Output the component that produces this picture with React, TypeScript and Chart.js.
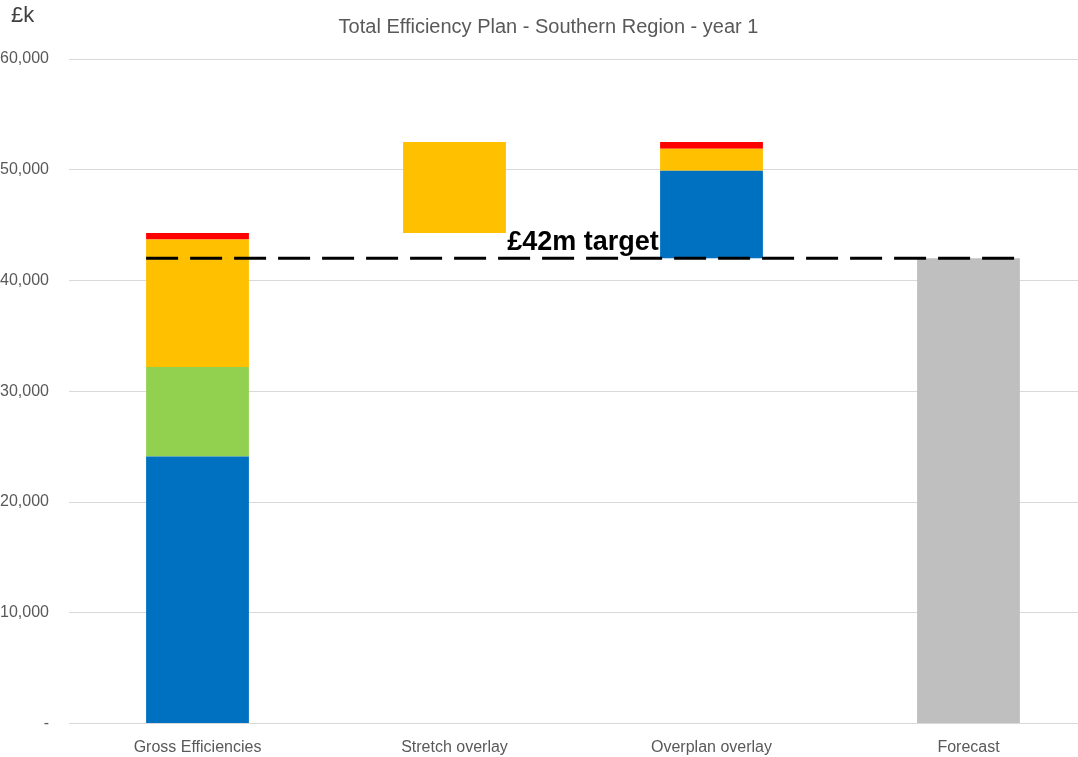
import React, { useEffect, useRef } from "react";
import { Chart, registerables } from "chart.js";

Chart.register(...registerables);

const categories = ["Gross Efficiencies", "Stretch overlay", "Overplan overlay", "Forecast"];
// floating segments [start, end] in £k
const blueSeries: ([number, number] | null)[] = [[0, 24100], null, [42000, 49900], null];
const greenSeries: ([number, number] | null)[] = [[24100, 32200], null, null, null];
const yellowSeries: ([number, number] | null)[] = [[32200, 43700], [44300, 52500], [49900, 51900], null];
const redSeries: ([number, number] | null)[] = [[43700, 44300], null, [51900, 52500], null];
const greySeries: ([number, number] | null)[] = [null, null, null, [0, 42000]];
const targetValue = 42000;
const targetLabel = "£42m target";
const titleText = "Total Efficiency Plan - Southern Region - year 1";
const unitLabel = "£k";

const FONT = "'Liberation Sans', Arial, Helvetica, sans-serif";

const overlayPlugin = {
  id: "overlay",
  afterDatasetsDraw(chart: any) {
    const ctx = chart.ctx;
    const y = chart.scales.y;
    const x = chart.scales.x;
    const firstMeta = chart.getDatasetMeta(0).data[0] as any;
    const lastMeta = chart.getDatasetMeta(4).data[3] as any;
    const left = firstMeta.x - firstMeta.width / 2;
    const right = lastMeta.x + lastMeta.width / 2;
    const py = y.getPixelForValue(targetValue);
    ctx.save();
    ctx.strokeStyle = "#000000";
    ctx.lineWidth = 3;
    ctx.setLineDash([32, 12]);
    ctx.beginPath();
    ctx.moveTo(left, py);
    ctx.lineTo(right, py);
    ctx.stroke();
    ctx.setLineDash([]);
    const cx = (x.getPixelForValue(1) + x.getPixelForValue(2)) / 2;
    ctx.fillStyle = "#000000";
    ctx.font = `bold 27px ${FONT}`;
    ctx.textAlign = "center";
    ctx.textBaseline = "alphabetic";
    ctx.fillText(targetLabel, cx, py - 8);
    ctx.fillStyle = "#404040";
    ctx.font = `22px ${FONT}`;
    ctx.textAlign = "left";
    ctx.textBaseline = "middle";
    ctx.fillText(unitLabel, 11, 16);
    ctx.restore();
  },
};

export default function App() {
  const ref = useRef<HTMLCanvasElement | null>(null);
  useEffect(() => {
    if (!ref.current) return;
    const mk = (label: string, data: any, color: string) => ({
      label,
      data,
      backgroundColor: color,
      borderWidth: 0,
      grouped: false,
      barPercentage: 0.4,
      categoryPercentage: 1,
    });
    const chart = new Chart(ref.current, {
      type: "bar",
      data: {
        labels: categories,
        datasets: [
          mk("Blue", blueSeries, "#0070C0"),
          mk("Green", greenSeries, "#92D050"),
          mk("Yellow", yellowSeries, "#FFC000"),
          mk("Red", redSeries, "#FF0000"),
          mk("Forecast", greySeries, "#BFBFBF"),
        ],
      },
      options: {
        animation: false,
        responsive: true,
        maintainAspectRatio: false,
        layout: { padding: { left: 0, right: 0, top: 0, bottom: 0 } },
        plugins: {
          legend: { display: false },
          tooltip: { enabled: false },
          title: {
            display: true,
            text: titleText,
            color: "#595959",
            font: { family: FONT, size: 20, weight: "normal" },
            padding: { top: 15, bottom: 20 },
          },
        },
        scales: {
          x: {
            grid: { display: false },
            border: { display: false },
            ticks: { color: "#595959", font: { family: FONT, size: 16 }, padding: 6 },
            afterFit: (s: any) => { s.height = 33.5; },
          },
          y: {
            min: 0,
            max: 60000,
            grid: { color: "#D9D9D9", lineWidth: 1, drawTicks: false },
            border: { display: false },
            ticks: {
              stepSize: 10000,
              color: "#595959",
              font: { family: FONT, size: 16 },
              padding: 20,
              callback: (v: any) => (v === 0 ? "-" : Number(v).toLocaleString("en-GB")),
            },
            afterFit: (s: any) => { s.width = 69; },
          },
        },
      },
      plugins: [overlayPlugin],
    });
    return () => chart.destroy();
  }, []);
  return (
    <div style={{ position: "fixed", left: 0, top: 0, width: 1078, height: 757, overflow: "hidden", background: "#fff" }}>
      <div style={{ position: "relative", width: 1097, height: 757 }}>
        <canvas ref={ref} />
      </div>
    </div>
  );
}
